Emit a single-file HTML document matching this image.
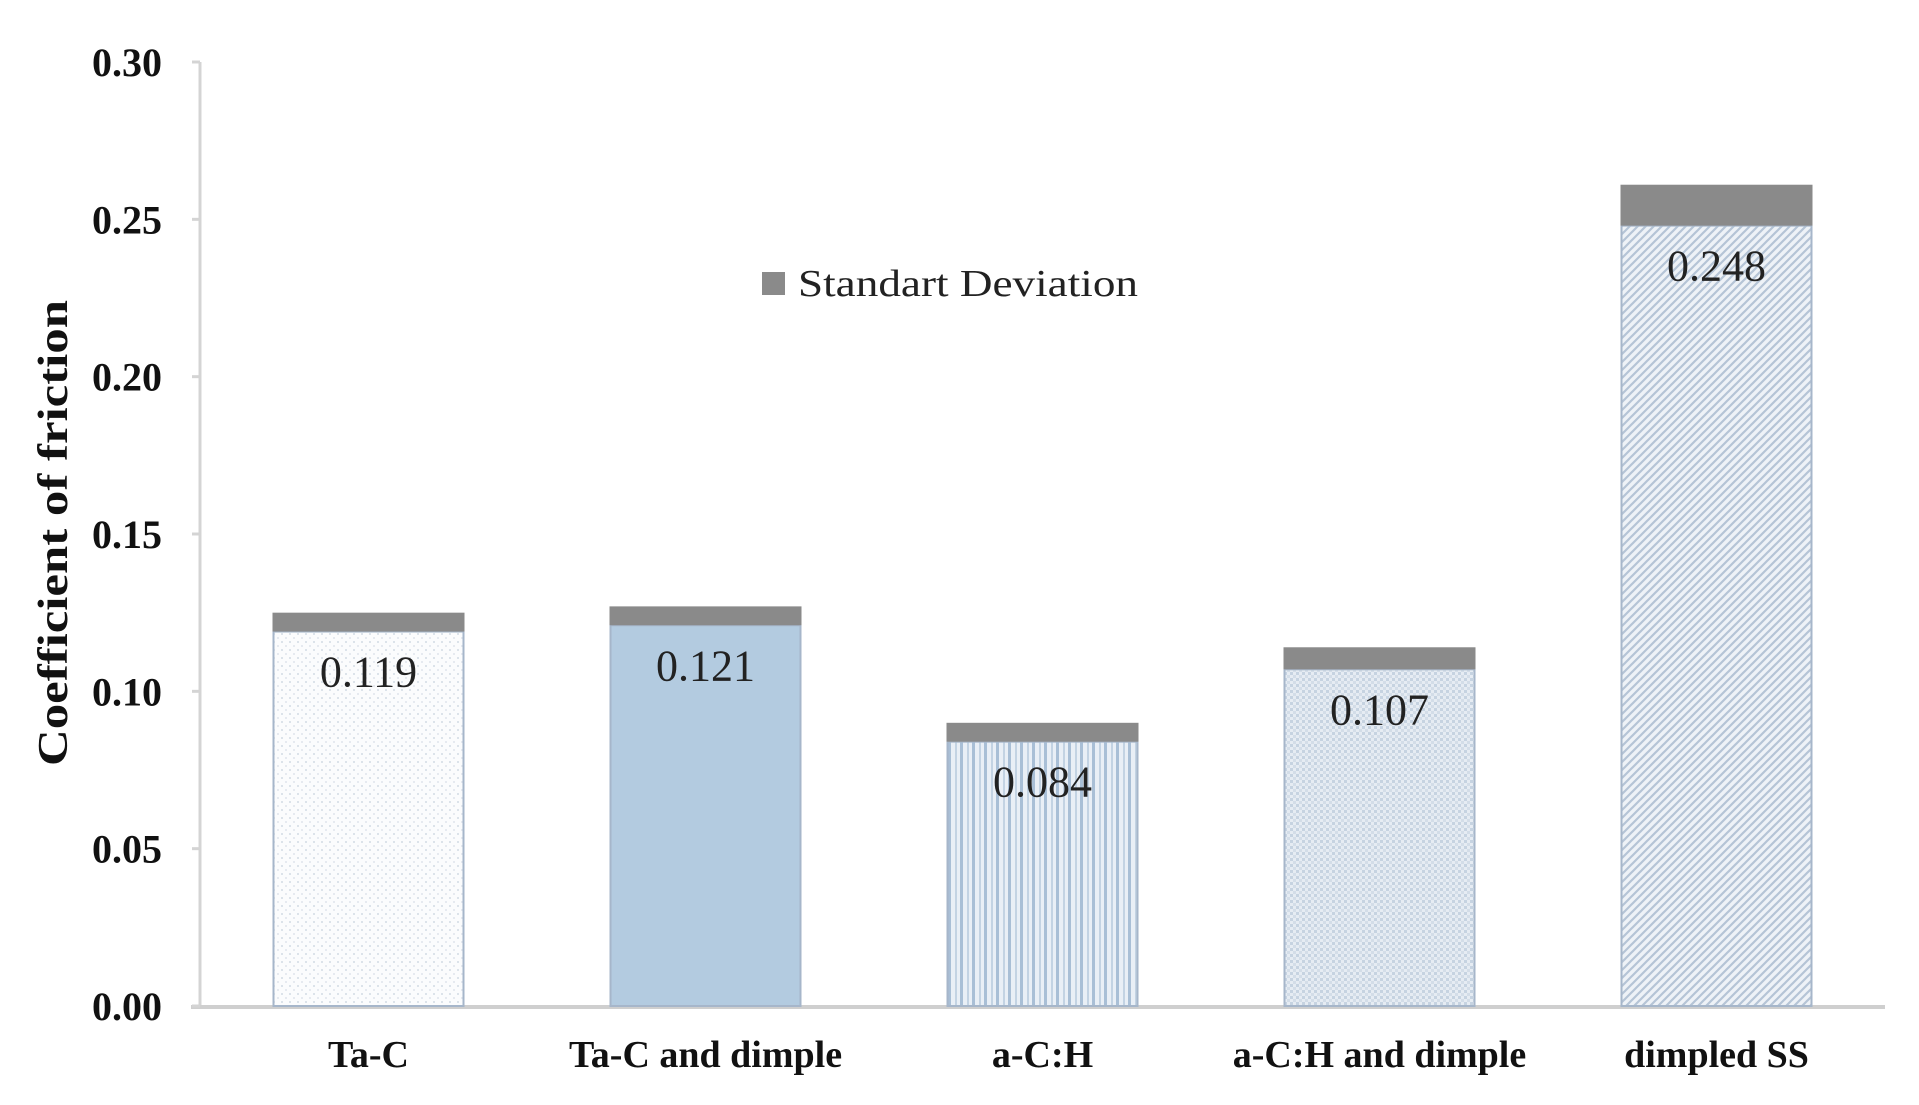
<!DOCTYPE html>
<html><head><meta charset="utf-8"><style>
html,body{margin:0;padding:0;background:#fff;}
svg{display:block;}
text{font-family:"Liberation Serif",serif;}
</style></head>
<body>
<svg id="chart" width="1919" height="1105" viewBox="0 0 1919 1105" xmlns="http://www.w3.org/2000/svg">
<defs>
  <pattern id="p-dots" width="8" height="8" patternUnits="userSpaceOnUse">
    <rect width="8" height="8" fill="#fbfcfd"/><circle cx="2" cy="2" r="1" fill="#d3dbe5"/><circle cx="6" cy="6" r="1" fill="#dfe5ec"/>
  </pattern>
  <pattern id="p-vert" width="12" height="10" patternUnits="userSpaceOnUse">
    <rect width="12" height="10" fill="#e9eff6"/><rect x="0" width="3" height="10" fill="#a9bfd6"/><rect x="7" width="2" height="10" fill="#c3d3e3"/>
  </pattern>
  <pattern id="p-grid" width="6" height="6" patternUnits="userSpaceOnUse">
    <rect width="6" height="6" fill="#e6ecf3"/><rect width="3" height="3" fill="#c6d3e1"/><rect x="3" y="3" width="3" height="3" fill="#d3dde8"/>
  </pattern>
  <pattern id="p-diag" width="8" height="8" patternUnits="userSpaceOnUse">
    <rect width="8" height="8" fill="#eef2f7"/><path d="M0 8 L8 0 M-2 2 L2 -2 M6 10 L10 6" stroke="#b5c4d6" stroke-width="2.2"/>
  </pattern>
</defs>
<g id="axes"></g>
<g id="bars"></g>
<g>
  <rect x="762" y="272" width="23" height="23" fill="#8a8a8a"/>
  <text x="798" y="296" font-size="38" fill="#222" textLength="340" lengthAdjust="spacingAndGlyphs">Standart Deviation</text>
</g>
<text transform="translate(67,533) rotate(-90)" text-anchor="middle" font-size="42" font-weight="bold" fill="#111" textLength="466" lengthAdjust="spacingAndGlyphs">Coefficient of friction</text>
</svg>
<script>
const categories = ["Ta-C", "Ta-C and dimple", "a-C:H", "a-C:H and dimple", "dimpled SS"];
const values = [0.119, 0.121, 0.084, 0.107, 0.248];
const stdDev = [0.006, 0.006, 0.006, 0.007, 0.013];
const valueLabels = ["0.119", "0.121", "0.084", "0.107", "0.248"];
const yTicks = [0, 0.05, 0.10, 0.15, 0.20, 0.25, 0.30];
const yTickLabels = ["0.00", "0.05", "0.10", "0.15", "0.20", "0.25", "0.30"];

const NS = "http://www.w3.org/2000/svg";
const fills = ["url(#p-dots)", "#b3cbe0", "url(#p-vert)", "url(#p-grid)", "url(#p-diag)"];
const x0 = 200, catW = 337, barW = 190, yZero = 1006, yTop = 62, yMax = 0.30;
function yScale(v){ return yZero - (v / yMax) * (yZero - yTop); }
function xCenter(i){ return x0 + catW * (i + 0.5); }
function mk(tag, attrs, parent){ const e = document.createElementNS(NS, tag); for (const k in attrs) e.setAttribute(k, attrs[k]); parent.appendChild(e); return e; }

const axes = document.getElementById('axes');
const yl = mk('line', {x1: x0, y1: yScale(yMax), x2: x0, y2: yZero, stroke: '#d4d4d4', 'stroke-width': 3}, axes);


const xl = mk('line', {x1: 191, y1: yZero + 1, x2: 1885, y2: yZero + 1, stroke: '#cfcfcf', 'stroke-width': 4}, axes);


yTicks.forEach((t, i) => {
  const tk = mk('line', {x1: x0 - 8, y1: yScale(t), x2: x0, y2: yScale(t), stroke: '#d4d4d4', 'stroke-width': 3}, axes);
  
  
  const tx = mk('text', {x: 162, y: yScale(t) + 14, 'text-anchor': 'end', 'font-size': 40, 'font-weight': 'bold', fill: '#111'}, axes);
  tx.textContent = yTickLabels[i];
  
  
});

const bars = document.getElementById('bars');
categories.forEach((c, i) => {
  const cx = xCenter(i), yv = yScale(values[i]), ye = yScale(values[i] + stdDev[i]);
  const b = mk('rect', {x: cx - barW/2, y: yv, width: barW, height: yZero - yv, fill: fills[i], stroke: '#a6b6ca', 'stroke-width': 2}, bars);
  
  
  const e = mk('rect', {x: cx - barW/2 - 1, y: ye, width: barW + 2, height: yv - ye, fill: '#8a8a8a'}, bars);
  
  
  const vl = mk('text', {x: cx, y: yv + 55, 'text-anchor': 'middle', 'font-size': 44, fill: '#222'}, bars);
  vl.textContent = valueLabels[i];
  
  
  const cl = mk('text', {x: cx, y: 1067, 'text-anchor': 'middle', 'font-size': 38, 'font-weight': 'bold', fill: '#111'}, bars);
  cl.textContent = c;
  
  
});
</script>
</body></html>
